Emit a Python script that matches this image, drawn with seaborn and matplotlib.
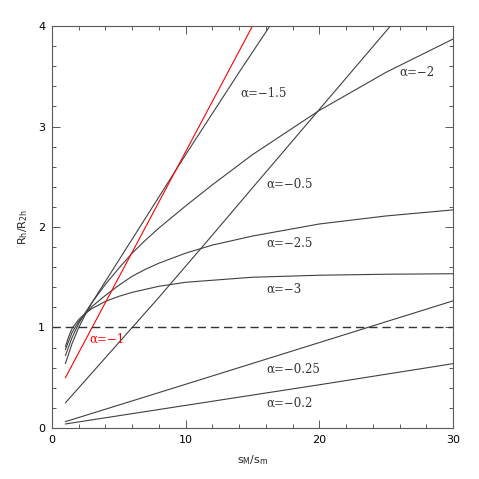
import numpy as np
import pandas as pd
import matplotlib
matplotlib.use("Agg")
import matplotlib.pyplot as plt
import seaborn as sns

sns.set_theme(style="ticks")
plt.rcParams["font.family"] = ["DejaVu Sans"]

# values (s_M/s_m vs R_h/R_2h)
x_m15 = [1, 1.5, 2, 2.5, 3, 4, 5, 6, 8, 10, 12, 14, 16, 17]
y_m15 = [0.64, 0.84, 1.00, 1.13, 1.25, 1.46, 1.67, 1.88, 2.30, 2.72, 3.13, 3.54, 3.94, 4.14]

x_m2 = [1, 1.5, 2, 2.5, 3, 4, 5, 6, 7, 8, 10, 12, 15, 20, 25, 30]
y_m2 = [0.72, 0.90, 1.04, 1.15, 1.25, 1.43, 1.59, 1.74, 1.87, 1.99, 2.21, 2.42, 2.72, 3.16, 3.54, 3.87]

x_m25 = [1, 1.5, 2, 2.5, 3, 4, 5, 6, 7, 8, 10, 12, 15, 20, 25, 30]
y_m25 = [0.78, 0.95, 1.06, 1.14, 1.21, 1.32, 1.42, 1.51, 1.58, 1.64, 1.74, 1.82, 1.91, 2.03, 2.11, 2.17]

x_m3 = [1, 1.25, 1.5, 2, 2.5, 3, 4, 5, 6, 7, 8, 10, 12, 15, 20, 25, 30]
y_m3 = [0.81, 0.91, 0.99, 1.08, 1.14, 1.19, 1.26, 1.31, 1.35, 1.38, 1.41, 1.45, 1.47, 1.50, 1.52, 1.53, 1.535]

x_m05 = [1, 2, 4, 6, 8, 10, 12, 15, 20, 25, 30]
y_m05 = [0.25, 0.40, 0.70, 1.00, 1.30, 1.61, 1.92, 2.39, 3.17, 3.95, 4.73]

x_m1 = [1, 5, 10, 15, 17]
y_m1 = [0.5, 1.5, 2.75, 4.0, 4.5]

x_m025 = [1, 10, 20, 30]
y_m025 = [0.063, 0.435, 0.85, 1.265]

x_m02 = [1, 10, 20, 30]
y_m02 = [0.04, 0.225, 0.43, 0.64]

black_series = [(x_m15, y_m15), (x_m2, y_m2), (x_m25, y_m25), (x_m3, y_m3),
                (x_m05, y_m05), (x_m025, y_m025), (x_m02, y_m02)]

labels = ["α=−1.5", "α=−2", "α=−0.5", "α=−2.5", "α=−3", "α=−0.25", "α=−0.2"]
label_x = [14.06, 26.0, 16.06, 16.06, 16.06, 16.06, 16.06]
label_y = [3.33, 3.54, 2.43, 1.84, 1.38, 0.58, 0.25]

fig = plt.figure(figsize=(4.79, 4.79), dpi=100)
ax = fig.add_axes([0.1086, 0.1065, 0.8371, 0.8392])

for xs, ys in black_series:
    sns.lineplot(x=xs, y=ys, ax=ax, color="0.25", lw=0.8, sort=False, estimator=None)
sns.lineplot(x=x_m1, y=y_m1, ax=ax, color="red", lw=0.8, sort=False, estimator=None)

ax.axhline(1.0, color="0.2", lw=1.0, dashes=(6, 3.5))

for t, lx, ly in zip(labels, label_x, label_y):
    ax.text(lx, ly, t, fontsize=8.5, family="DejaVu Serif", color="0.2",
            ha="left", va="center")
ax.text(2.79, 0.88, "α=−1", fontsize=8.5, family="DejaVu Serif", color="red",
        ha="left", va="center")

ax.set_xlim(0, 30)
ax.set_ylim(0, 4)
ax.set_xticks([0, 10, 20, 30])
ax.set_yticks([0, 1, 2, 3, 4])
ax.set_xticks(np.arange(0, 31, 2), minor=True)
ax.set_yticks(np.arange(0, 4.01, 0.2), minor=True)
ax.tick_params(which="both", direction="in", top=True, right=True,
               colors="0.35", labelcolor="black", labelsize=8, width=0.7)
ax.tick_params(which="major", length=5.5, pad=5)
ax.tick_params(which="minor", length=3)
for sp in ax.spines.values():
    sp.set_color("0.35")
    sp.set_linewidth(0.8)

ax.set_xlabel(r"$\mathregular{s_M/s_m}$", fontsize=8, labelpad=6)
ax.set_ylabel(r"$\mathregular{R_h/R_{2h}}$", fontsize=8, labelpad=6)

fig.savefig("out.png", dpi=100)
